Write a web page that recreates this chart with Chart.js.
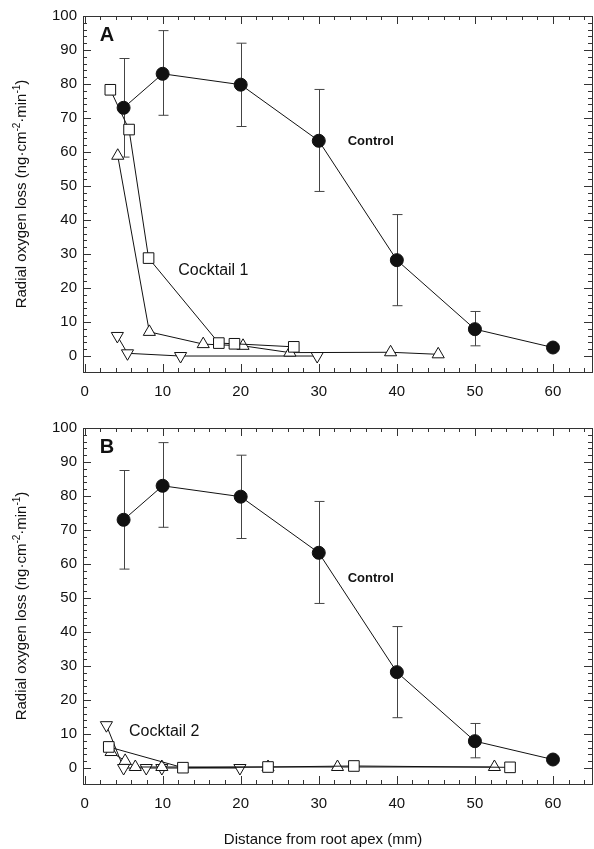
<!DOCTYPE html>
<html>
<head>
<meta charset="utf-8">
<script src="https://cdn.jsdelivr.net/npm/chart.js@4"></script>
<style>
  body { margin: 0; background: #fff; }
  #wrap { position: relative; width: 594px; height: 849px; }
  canvas { position: absolute; left: 0; }
</style>
</head>
<body>
<div id="wrap">
  <canvas id="chartA" width="594" height="410" style="top:0px"></canvas>
  <canvas id="chartB" width="594" height="437" style="top:412px"></canvas>
</div>
<script>
"use strict";

// tick labels
const xTickVals = [0, 10, 20, 30, 40, 50, 60];
const yTickVals = [0, 10, 20, 30, 40, 50, 60, 70, 80, 90, 100];

// control (same in both panels), with error bar ends
const controlX = [5, 10, 20, 30, 40, 50, 60];
const controlY = [73, 83, 79.8, 63.3, 28.2, 7.9, 2.5];
const controlHi = [87.5, 95.7, 92, 78.4, 41.6, 13.1, null];
const controlLo = [58.5, 70.8, 67.5, 48.4, 14.8, 3, null];

// panel A - cocktail 1
const sqAX = [3.3, 5.7, 8.2, 17.2, 19.2, 26.8];
const sqAY = [78.3, 66.6, 28.8, 3.8, 3.6, 2.7];
const upAX = [4.25, 8.3, 15.2, 20.3, 26.3, 39.2, 45.3];
const upAY = [58.9, 7.1, 3.5, 3.0, 1.0, 1.1, 0.5];
const downAX = [4.2, 5.5, 12.3, 29.8];
const downAY = [5.9, 0.8, 0, 0];

// panel B - cocktail 2
const sqBX = [3.1, 12.6, 23.5, 34.5, 54.5];
const sqBY = [6.2, 0.1, 0.3, 0.6, 0.2];
const upBX = [3.4, 5.2, 6.5, 9.9, 23.5, 32.4, 52.5];
const upBY = [4.7, 2.1, 0.3, 0.3, 0.3, 0.3, 0.3];
const downBX = [2.8, 5.0, 7.9, 9.9, 19.9];
const downBY = [12.6, 0, 0, 0, 0];

const FONT = "'Liberation Sans', Arial, sans-serif";
const INK = "#111";

function pts(xs, ys) {
  return xs.map((x, i) => ({ x: x, y: ys[i] }));
}

function series(xs, ys, style) {
  const ds = {
    data: pts(xs, ys),
    showLine: true,
    borderColor: INK,
    borderWidth: 1,
    pointBorderColor: INK,
    pointBorderWidth: 1,
    pointBackgroundColor: "#fff",
    pointRadius: 7,
    tension: 0
  };
  if (style === "circle") {
    ds.pointStyle = "circle";
    ds.pointBackgroundColor = INK;
    ds.pointRadius = 6.5;
  } else if (style === "square") {
    ds.pointStyle = "rect";
    ds.pointRadius = 7.5;
  } else if (style === "up") {
    ds.pointStyle = "triangle";
  } else {
    ds.pointStyle = "triangle";
    ds.pointRotation = 180;
  }
  return ds;
}

// error bars for the control series
const errorBars = {
  id: "errorBars",
  beforeDatasetsDraw(chart) {
    const ctx = chart.ctx;
    const xs = chart.scales.x, ys = chart.scales.y;
    ctx.save();
    ctx.strokeStyle = "#444";
    ctx.lineWidth = 1;
    for (let i = 0; i < controlX.length; i++) {
      if (controlHi[i] === null) continue;
      const px = Math.round(xs.getPixelForValue(controlX[i])) + 0.5;
      const top = ys.getPixelForValue(controlHi[i]);
      const bot = ys.getPixelForValue(controlLo[i]);
      ctx.beginPath();
      ctx.moveTo(px, top); ctx.lineTo(px, bot);
      ctx.moveTo(px - 5, top); ctx.lineTo(px + 5, top);
      ctx.moveTo(px - 5, bot); ctx.lineTo(px + 5, bot);
      ctx.stroke();
    }
    ctx.restore();
  }
};

// box with inward ticks on all four sides
const frame = {
  id: "frame",
  afterDraw(chart) {
    const ctx = chart.ctx;
    const a = chart.chartArea;
    const xs = chart.scales.x, ys = chart.scales.y;
    ctx.save();
    ctx.strokeStyle = "#333";
    ctx.lineWidth = 1;
    ctx.strokeRect(a.left + 0.5, a.top + 0.5, a.right - a.left, a.bottom - a.top);
    ctx.beginPath();
    for (let v = 0; v <= 64; v += 2) {
      const px = Math.round(xs.getPixelForValue(v)) + 0.5;
      const len = v % 10 === 0 ? 8 : 4;
      ctx.moveTo(px, a.bottom); ctx.lineTo(px, a.bottom - len);
      ctx.moveTo(px, a.top); ctx.lineTo(px, a.top + len);
    }
    for (let v = 0; v <= 100; v += 2) {
      const py = Math.round(ys.getPixelForValue(v)) + 0.5;
      const len = v % 10 === 0 ? 8 : 4;
      ctx.moveTo(a.left, py); ctx.lineTo(a.left + len, py);
      ctx.moveTo(a.right, py); ctx.lineTo(a.right - len, py);
    }
    ctx.stroke();
    ctx.restore();
  }
};

// panel letter, series labels, axis titles
const texts = {
  id: "texts",
  afterDraw(chart, args, opts) {
    const ctx = chart.ctx;
    const a = chart.chartArea;
    const xs = chart.scales.x, ys = chart.scales.y;
    ctx.save();
    ctx.fillStyle = INK;
    ctx.textBaseline = "middle";

    ctx.font = "bold 20px " + FONT;
    ctx.textAlign = "center";
    ctx.fillText(opts.letter, a.left + 24, a.top + 19);

    ctx.textAlign = "left";
    opts.notes.forEach(n => {
      ctx.font = n.font + " " + FONT;
      ctx.fillText(n.text, xs.getPixelForValue(n.x), ys.getPixelForValue(n.y));
    });

    // y title with superscripts
    const parts = [
      ["Radial oxygen loss (ng\u00b7cm", false],
      ["-2", true],
      ["\u00b7min", false],
      ["-1", true],
      [")", false]
    ];
    const big = "15px " + FONT, small = "10px " + FONT;
    let total = 0;
    parts.forEach(p => { ctx.font = p[1] ? small : big; total += ctx.measureText(p[0]).width; });
    ctx.translate(22, (a.top + a.bottom) / 2);
    ctx.rotate(-Math.PI / 2);
    let cx = -total / 2;
    parts.forEach(p => {
      ctx.font = p[1] ? small : big;
      ctx.fillText(p[0], cx, p[1] ? -5 : 0);
      cx += ctx.measureText(p[0]).width;
    });
    ctx.setTransform(1, 0, 0, 1, 0, 0);

    if (opts.xTitle) {
      ctx.font = "15px " + FONT;
      ctx.textAlign = "center";
      ctx.fillText(opts.xTitle, 323, a.bottom + 56);
    }
    ctx.restore();
  }
};

function makeChart(id, datasets, letter, notes, xTitle, xAxisHeight) {
  return new Chart(document.getElementById(id), {
    type: "scatter",
    data: { datasets: datasets },
    options: {
      responsive: false,
      animation: false,
      layout: { autoPadding: false, padding: { top: 16, right: 2, left: 0, bottom: 0 } },
      plugins: {
        legend: { display: false },
        tooltip: { enabled: false },
        texts: { letter: letter, notes: notes, xTitle: xTitle }
      },
      scales: {
        x: {
          type: "linear",
          min: -0.2,
          max: 65,
          afterBuildTicks: s => { s.ticks = xTickVals.map(v => ({ value: v })); },
          afterFit: s => { s.height = xAxisHeight; s.paddingLeft = 0; s.paddingRight = 0; },
          grid: { display: false, drawTicks: false },
          border: { display: false },
          ticks: { color: INK, padding: 11, font: { family: FONT, size: 15 } }
        },
        y: {
          type: "linear",
          min: -4.7,
          max: 100,
          afterBuildTicks: s => { s.ticks = yTickVals.map(v => ({ value: v })); },
          afterFit: s => { s.width = 83; s.paddingTop = 0; s.paddingBottom = 0; },
          grid: { display: false, drawTicks: false },
          border: { display: false },
          ticks: { color: INK, padding: 6, font: { family: FONT, size: 15 } }
        }
      }
    },
    plugins: [errorBars, frame, texts]
  });
}

makeChart("chartA", [
  series(controlX, controlY, "circle"),
  series(sqAX, sqAY, "square"),
  series(upAX, upAY, "up"),
  series(downAX, downAY, "down")
], "A", [
  { text: "Control", x: 33.7, y: 63.2, font: "bold 13px" },
  { text: "Cocktail 1", x: 12.0, y: 25.2, font: "16px" }
], null, 38);

makeChart("chartB", [
  series(controlX, controlY, "circle"),
  series(sqBX, sqBY, "square"),
  series(upBX, upBY, "up"),
  series(downBX, downBY, "down")
], "B", [
  { text: "Control", x: 33.7, y: 55.8, font: "bold 13px" },
  { text: "Cocktail 2", x: 5.7, y: 10.6, font: "16px" }
], "Distance from root apex (mm)", 65);
</script>
</body>
</html>
